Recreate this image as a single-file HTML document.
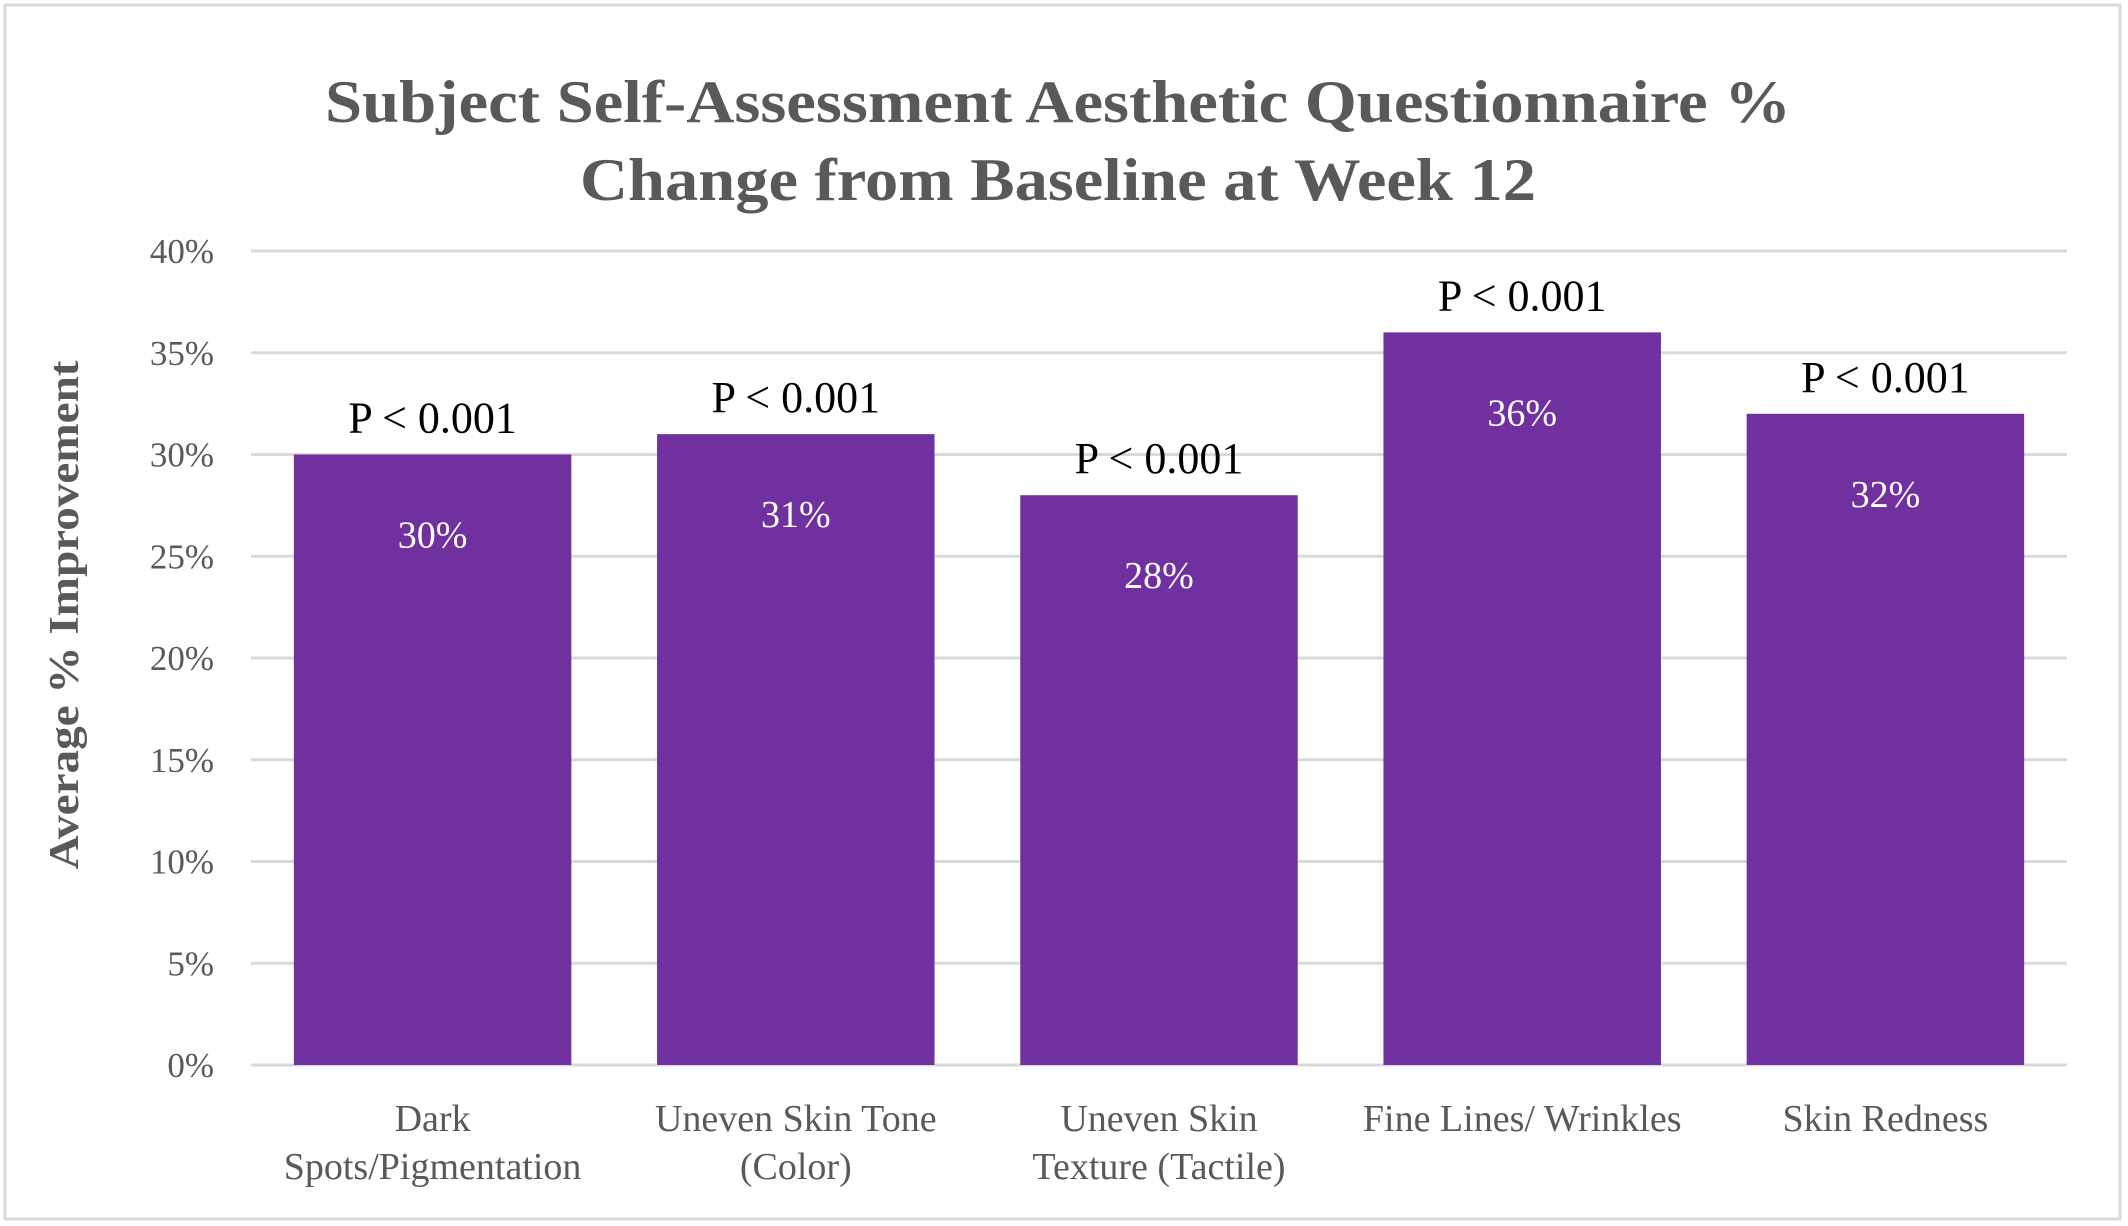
<!DOCTYPE html>
<html><head><meta charset="utf-8"><style>
html,body{margin:0;padding:0;background:#fff;}
svg{display:block;font-family:"Liberation Serif",serif;}
</style></head><body>
<svg id="chart" width="2128" height="1226" viewBox="0 0 2128 1226">
<rect x="5" y="5" width="2115" height="1214" fill="#fff" stroke="#d9d9d9" stroke-width="3"/>
<g fill="#595959" font-weight="bold" font-size="60" text-anchor="middle">
<text x="1058" y="122" textLength="1466" lengthAdjust="spacingAndGlyphs">Subject Self-Assessment Aesthetic Questionnaire  %</text>
<text x="1058" y="200" textLength="956" lengthAdjust="spacingAndGlyphs">Change from Baseline at Week 12</text>
</g>
<text transform="translate(78,615) rotate(-90)" text-anchor="middle" font-weight="bold" font-size="42" fill="#595959" textLength="509" lengthAdjust="spacingAndGlyphs">Average % Improvement</text>
<g id="grid"></g><g id="bars"></g><g id="labels"></g>
</svg>
<script>
const categories=[["Dark","Spots/Pigmentation"],["Uneven Skin Tone","(Color)"],["Uneven Skin","Texture (Tactile)"],["Fine Lines/ Wrinkles"],["Skin Redness"]];
const values=[30,31,28,36,32];
const pLabels=["P < 0.001","P < 0.001","P < 0.001","P < 0.001","P < 0.001"];
const yTicks=[0,5,10,15,20,25,30,35,40];
const NS="http://www.w3.org/2000/svg";
const plotL=251,plotR=2067,y0=1065,y40=251;
function yScale(v){return y0-(v/40)*(y0-y40);}
const band=(plotR-plotL)/categories.length;
function xCenter(i){return plotL+band*(i+0.5);}
const barW=band*0.764;
function mk(tag,attrs,parent){const e=document.createElementNS(NS,tag);for(const k in attrs)e.setAttribute(k,attrs[k]);parent.appendChild(e);return e;}
const grid=document.getElementById('grid'),bars=document.getElementById('bars'),labels=document.getElementById('labels');
yTicks.forEach(t=>{
  const l=mk('line',{x1:plotL,x2:plotR,y1:yScale(t),y2:yScale(t),stroke:'#d9d9d9','stroke-width':3},grid);
  
  
  const tx=mk('text',{x:214,y:yScale(t)+12,'text-anchor':'end','font-size':35,fill:'#595959'},grid);
  tx.textContent=t+'%';
  
  
});
values.forEach((v,i)=>{
  const cx=xCenter(i),top=yScale(v);
  const r=mk('rect',{x:cx-barW/2,y:top,width:barW,height:y0-top,fill:'#7030a0'},bars);
  
  
  const vl=mk('text',{x:cx,y:top+93,'text-anchor':'middle','font-size':38,fill:'#fff'},labels);
  vl.textContent=v+'%';
  
  
  const pl=mk('text',{x:cx,y:top-22,'text-anchor':'middle','font-size':44,fill:'#000'},labels);
  pl.textContent=pLabels[i];
  
  
  categories[i].forEach((ln,j)=>{
    const c=mk('text',{x:cx,y:1131+j*48,'text-anchor':'middle','font-size':38,fill:'#595959'},labels);
    c.textContent=ln;
    
    
  });
});
</script>
</body></html>
